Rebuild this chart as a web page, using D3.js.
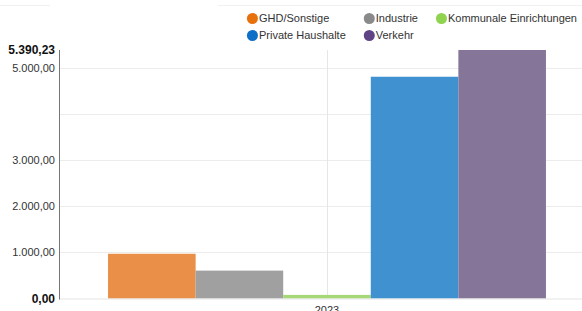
<!DOCTYPE html>
<html>
<head>
<meta charset="utf-8">
<script src="https://cdn.jsdelivr.net/npm/d3@7"></script>
<style>
  html, body { margin: 0; padding: 0; background: #fff; overflow: hidden; }
  svg { display: block; font-family: "Liberation Sans", Arial, sans-serif; }
</style>
</head>
<body>
<div id="chart"></div>
<script>
(function(d3) {
  'use strict';

  //data
  var categories = ['2023'];
  var seriesNames = ['GHD/Sonstige', 'Industrie', 'Kommunale Einrichtungen', 'Private Haushalte', 'Verkehr'];
  var seriesValues = [970, 605, 78, 4810, 5390.23];
  var legendColors = ['#e8700c', '#8a8a8a', '#8fd34f', '#0f6fc6', '#5e4485'];
  var barColors = ['#ea8f47', '#a0a0a0', '#a6d877', '#3f91d0', '#857598'];
  var gridTicks = [1000, 2000, 3000, 4000, 5000];
  var labelTicks = [1000, 2000, 3000, 5000];
  var yMax = 5390.23;

  //sizes
  var width = 595, height = 320;
  var margin = {top: 50, left: 59, bottom: 21.5, right: 0};
  var plotBottom = height - margin.bottom;

  var de = d3.formatLocale({decimal: ',', thousands: '.', grouping: [3], currency: ['', '€']});
  var fmt = de.format(',.2f');

  var svg = d3.select('#chart').append('svg')
    .attr('width', width)
    .attr('height', height);

  //faint top rule
  svg.append('g').selectAll('line')
    .data([[0, 50], [218, width]])
    .enter().append('line')
    .attr('x1', function(d) { return d[0]; })
    .attr('x2', function(d) { return d[1]; })
    .attr('y1', 5.5).attr('y2', 5.5)
    .style('stroke', '#f0f0f0');

  var y = d3.scaleLinear()
    .domain([0, yMax])
    .range([plotBottom, margin.top]);

  var x0 = d3.scaleBand()
    .domain(categories)
    .range([margin.left, width])
    .paddingInner(0)
    .paddingOuter(0.112);

  var x1 = d3.scaleBand()
    .domain(seriesNames)
    .range([0, x0.bandwidth()]);

  //horizontal grid
  svg.append('g').selectAll('line')
    .data(gridTicks)
    .enter().append('line')
    .attr('x1', margin.left).attr('x2', width)
    .attr('y1', function(d) { return Math.round(y(d)) + 0.5; })
    .attr('y2', function(d) { return Math.round(y(d)) + 0.5; })
    .style('stroke', '#ececec');

  //vertical grid at category
  svg.append('g').selectAll('line')
    .data(categories)
    .enter().append('line')
    .attr('x1', function(d) { return Math.round(x0(d) + x0.bandwidth() / 2) + 0.5; })
    .attr('x2', function(d) { return Math.round(x0(d) + x0.bandwidth() / 2) + 0.5; })
    .attr('y1', margin.top).attr('y2', plotBottom)
    .style('stroke', '#e6e6e6');

  //bars
  svg.append('g').selectAll('g')
    .data(categories)
    .enter().append('g')
    .attr('transform', function(d) { return 'translate(' + x0(d) + ',0)'; })
    .selectAll('rect')
    .data(function(d, i) { return seriesNames.map(function(s, j) { return {name: s, value: seriesValues[j], color: barColors[j]}; }); })
    .enter().append('rect')
    .attr('x', function(d) { return x1(d.name); })
    .attr('width', x1.bandwidth())
    .attr('y', function(d) { return y(d.value); })
    .attr('height', function(d) { return plotBottom - y(d.value); })
    .style('fill', function(d) { return d.color; });

  //baseline
  svg.append('line')
    .attr('x1', margin.left).attr('x2', width)
    .attr('y1', plotBottom + 0.5).attr('y2', plotBottom + 0.5)
    .style('stroke', '#e4e4e4');

  //y axis line
  svg.append('line')
    .attr('x1', margin.left + 0.5).attr('x2', margin.left + 0.5)
    .attr('y1', y(yMax)).attr('y2', plotBottom + 1)
    .style('stroke', '#777');

  //y labels
  svg.append('g').selectAll('text')
    .data(labelTicks)
    .enter().append('text')
    .attr('x', margin.left - 4)
    .attr('y', function(d) { return y(d); })
    .attr('dy', '0.35em')
    .attr('text-anchor', 'end')
    .style('font-size', '11px')
    .style('fill', '#333')
    .text(function(d) { return fmt(d); });

  svg.append('g').selectAll('text')
    .data([0, yMax])
    .enter().append('text')
    .attr('x', margin.left - 4)
    .attr('y', function(d) { return y(d); })
    .attr('dy', '0.35em')
    .attr('text-anchor', 'end')
    .style('font-size', '12px')
    .style('font-weight', 'bold')
    .style('fill', '#111')
    .text(function(d) { return fmt(d); });

  //x labels (cut by the bottom edge, as in the original)
  svg.append('g').selectAll('text')
    .data(categories)
    .enter().append('text')
    .attr('x', function(d) { return x0(d) + x0.bandwidth() / 2; })
    .attr('y', plotBottom + 15)
    .attr('text-anchor', 'middle')
    .style('font-size', '11px')
    .style('fill', '#333')
    .text(function(d) { return d; });

  //legend (grid, right aligned)
  var cols = 3, gap = 18, r = 5.5, rowY = [18.5, 35.5], legendRight = 577;
  var legend = svg.append('g');
  var items = legend.selectAll('g')
    .data(seriesNames)
    .enter().append('g');
  items.append('circle')
    .attr('r', r)
    .attr('cx', r)
    .style('fill', function(d, i) { return legendColors[i]; });
  items.append('text')
    .attr('x', 2 * r + 1)
    .attr('dy', '0.35em')
    .style('font-size', '11px')
    .style('fill', '#333')
    .text(function(d) { return d; });

  var widths = [];
  items.each(function(d, i) {
    var w = 2 * r + 1 + d3.select(this).select('text').node().getComputedTextLength();
    var c = i % cols;
    widths[c] = Math.max(widths[c] || 0, w);
  });
  var colX = [], acc = 0;
  for (var c = 0; c < cols; c++) {
    colX[c] = acc;
    acc += widths[c] + (c < cols - 1 ? gap : 0);
  }
  var legendLeft = legendRight - acc;
  items.attr('transform', function(d, i) {
    return 'translate(' + (legendLeft + colX[i % cols]) + ',' + rowY[Math.floor(i / cols)] + ')';
  });
})(window.d3);
</script>
</body>
</html>
